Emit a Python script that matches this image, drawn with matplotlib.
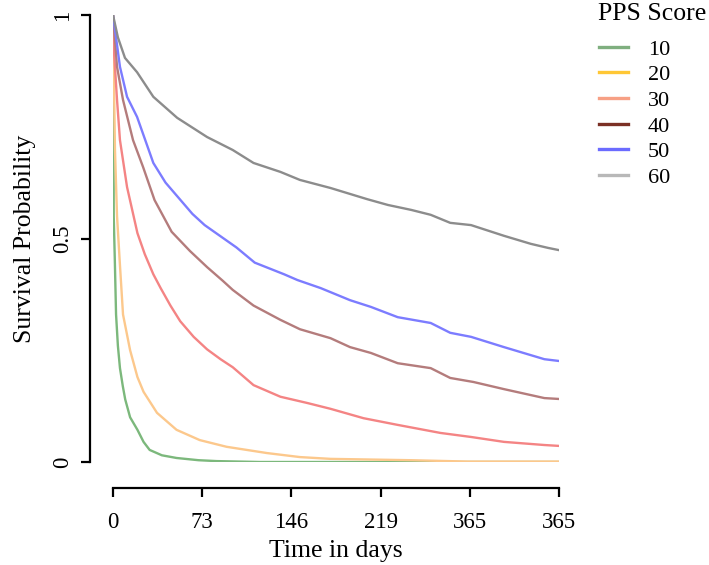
'''
Kaplan-Meier style survival curves by PPS score (values read off the reference figure).
'''

import numpy as np
import matplotlib as mpl
mpl.use('Agg')
from matplotlib import pyplot as plt
from matplotlib.lines import Line2D


mpl.rcParams['font.family'] = ['Liberation Serif', 'DejaVu Serif']


# Survival curves: time in days, survival probability
pps_labels = ['10', '20', '30', '40', '50', '60']

t10 = [0, 0.3, 0.6, 1.5, 2.5, 4, 5.7, 8, 10, 14, 20, 25, 30, 40, 52, 70, 85, 120, 365]
s10 = [1, 0.88, 0.55, 0.45, 0.33, 0.26, 0.21, 0.17, 0.14, 0.10, 0.072, 0.045, 0.027, 0.015, 0.009, 0.004, 0.002, 0.0, 0.0]

t20 = [0, 0.3, 1.6, 3.3, 5.7, 8.2, 14, 20, 25, 36, 52, 71, 93, 126, 153, 178, 244, 290, 365]
s20 = [1, 0.94, 0.70, 0.55, 0.44, 0.33, 0.25, 0.19, 0.157, 0.11, 0.072, 0.049, 0.034, 0.020, 0.011, 0.007, 0.004, 0.001, 0.001]

t30 = [0, 0.3, 3.3, 5.7, 11.5, 20, 26, 33, 39, 47, 55, 66, 77, 88, 98, 115, 137, 159, 178, 205, 233, 268, 293, 320, 353, 365]
s30 = [1, 0.94, 0.81, 0.72, 0.615, 0.512, 0.465, 0.42, 0.389, 0.35, 0.315, 0.28, 0.252, 0.23, 0.212, 0.172, 0.146, 0.132, 0.119, 0.098, 0.083, 0.065, 0.056, 0.045, 0.038, 0.036]

t40 = [0, 3.3, 8.2, 16.4, 24.6, 34, 48, 63, 77, 90, 98, 115, 137, 153, 178, 194, 211, 233, 260, 276, 295, 320, 353, 365]
s40 = [1, 0.884, 0.81, 0.72, 0.66, 0.586, 0.515, 0.472, 0.436, 0.405, 0.385, 0.35, 0.318, 0.297, 0.277, 0.257, 0.244, 0.221, 0.210, 0.188, 0.179, 0.163, 0.143, 0.141]

t50 = [0, 5.7, 11.5, 19.7, 33, 43, 54, 65, 75, 88, 101, 116, 140, 151, 170, 178, 194, 211, 233, 260, 276, 293, 320, 353, 365]
s50 = [1, 0.884, 0.817, 0.772, 0.669, 0.625, 0.59, 0.555, 0.53, 0.505, 0.48, 0.446, 0.42, 0.407, 0.389, 0.38, 0.362, 0.347, 0.324, 0.311, 0.289, 0.280, 0.257, 0.230, 0.226]

t60 = [0, 4, 9.8, 19.7, 33, 52.5, 77, 98, 115, 137, 153, 178, 208, 225, 244, 260, 276, 293, 320, 342, 356, 365]
s60 = [1, 0.95, 0.904, 0.872, 0.817, 0.770, 0.727, 0.698, 0.669, 0.649, 0.631, 0.613, 0.588, 0.575, 0.564, 0.553, 0.535, 0.530, 0.506, 0.488, 0.479, 0.474]

times    = [t10, t20, t30, t40, t50, t60]
survival = [s10, s20, s30, s40, s50, s60]

xticks      = [0, 73, 146, 219, 292, 365]
xticklabels = ['0', '73', '146', '219', '365', '365']
yticks      = [0, 0.5, 1]
yticklabels = ['0', '0.5', '1']

curve_colors  = ['#7cb87c', '#fcc88c', '#f48484', '#b47c7c', '#7c7cff', '#8c8c8c']
legend_colors = ['#7faf7f', '#ffc735', '#f7a085', '#7b3025', '#6b6bff', '#b8b8b8']


W, H = 709, 565
fig = plt.figure(figsize=(W/100, H/100), dpi=100)
ax  = fig.add_axes([113/W, 1-462/H, 446/W, 447/H])

for t, s, c in zip(times, survival, curve_colors):
	ax.plot(t, s, color=c, lw=1.7, solid_joinstyle='round')

ax.set_xlim(0, 365)
ax.set_ylim(0, 1)
for side in ['top', 'right']:
	ax.spines[side].set_visible(False)
ax.spines['left'].set_position(('outward', 16.5))
ax.spines['bottom'].set_position(('outward', 18.5))
ax.spines['left'].set_bounds(0, 1)
ax.spines['bottom'].set_bounds(0, 365)
for side in ['left', 'bottom']:
	ax.spines[side].set_linewidth(1.6)

ax.set_xticks(xticks)
ax.set_xticklabels(xticklabels)
ax.set_yticks(yticks)
ax.set_yticklabels(yticklabels, rotation=90, va='center')
ax.tick_params(axis='both', length=6.5, width=1.6, labelsize=16.5, direction='out')
ax.tick_params(axis='x', pad=11)
ax.tick_params(axis='y', pad=6)

ax.set_xlabel('Time in days', fontsize=18.5, labelpad=5)
ax.set_ylabel('Survival Probability', fontsize=18.5, labelpad=11)

# legend: title placed separately so the gap under it matches the reference
fig.text(598/W, 1-14/H, 'PPS Score', ha='left', va='center', fontsize=18.5)
handles = [Line2D([], [], color=c, lw=2.4) for c in legend_colors]
leg = ax.legend(handles, pps_labels, loc='upper left',
				bbox_to_anchor=(599/W, 1-39/H), bbox_transform=fig.transFigure,
				frameon=False, fontsize=16, handlelength=1.3, handletextpad=0.9,
				labelspacing=0.23, borderpad=0, borderaxespad=0)

fig.savefig('out.png', dpi=100)
